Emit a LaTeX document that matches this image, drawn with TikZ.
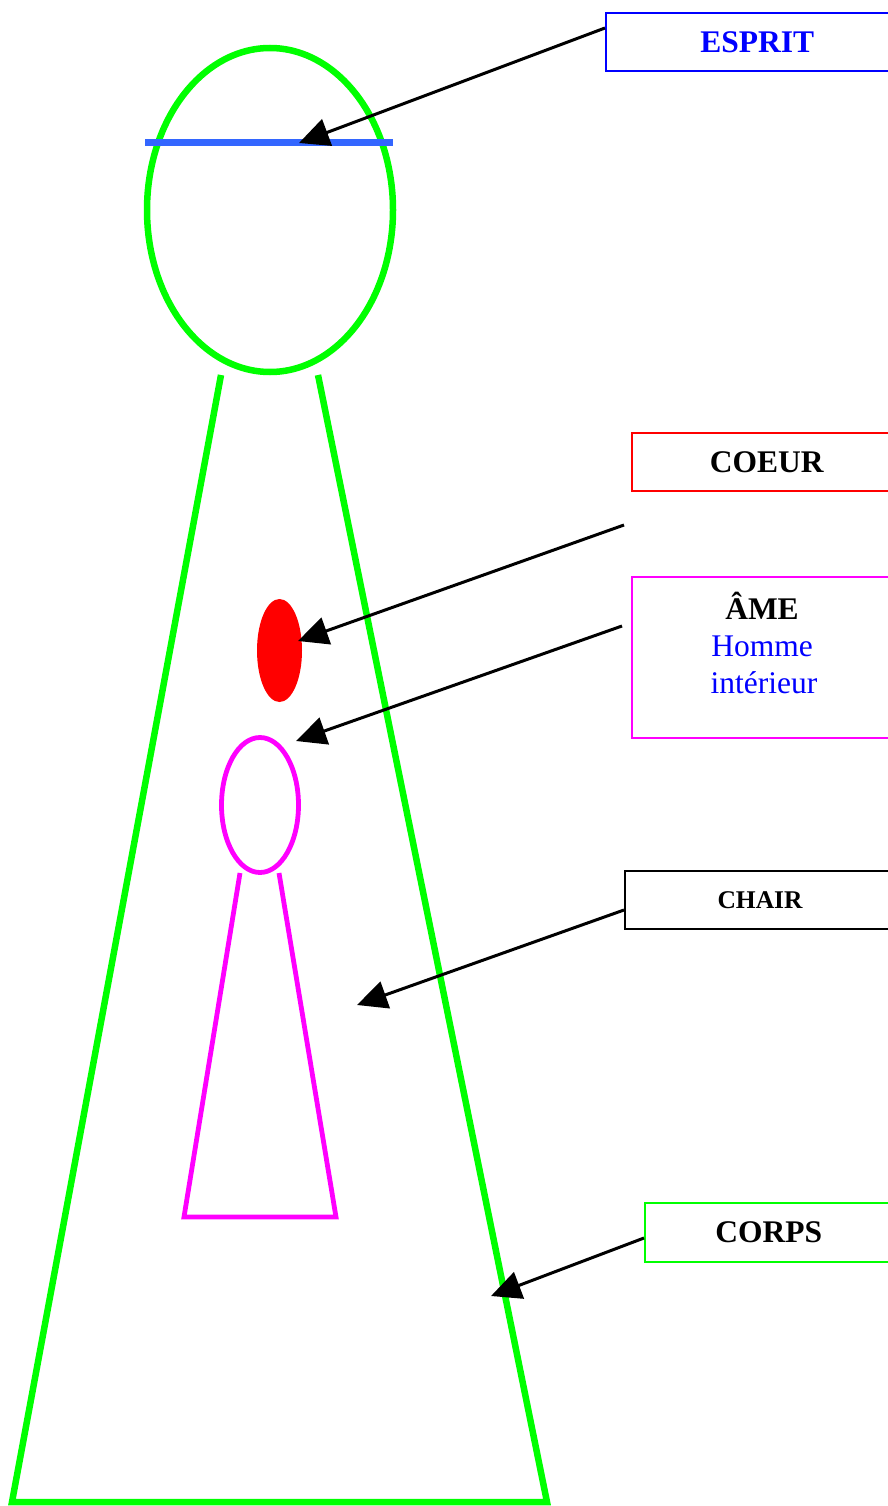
\documentclass[tikz,border=0pt]{standalone}
\usepackage{fontspec}
\setmainfont{Liberation Serif}
\usetikzlibrary{arrows.meta}
\definecolor{grn}{RGB}{0,255,0}
\definecolor{mag}{RGB}{255,0,255}
\definecolor{bl}{RGB}{0,0,255}
\definecolor{lineblue}{RGB}{51,102,255}
\begin{document}
\begin{tikzpicture}[x=1pt,y=-1pt,
  labelbox/.style={draw, line width=1.6pt, rectangle, inner sep=0pt, anchor=west,
    font=\fontsize{31.5}{37}\selectfont\bfseries},
  pointer/.style={line width=3pt, -{Triangle[length=30pt,width=28pt]}},
  figline/.style={grn, line width=6.5pt},
  soulline/.style={mag, line width=4.8pt}]
\useasboundingbox (0,0) rectangle (888,1506);
\clip (0,0) rectangle (888,1506);
% head
\draw[figline] (270,210) ellipse [x radius=123, y radius=162];
\draw[lineblue, line width=7pt] (145,143) -- (393,143);
% body
\draw[figline] (221,375) -- (12,1502) -- (547,1502) -- (318,375);
% heart
\fill[red] (279.5,650.5) ellipse [x radius=22.5, y radius=51.5];
% inner man
\draw[soulline] (260,805) ellipse [x radius=38.5, y radius=67.5];
\draw[soulline] (240,873) -- (184,1217) -- (336,1217) -- (279,873);
% label boxes
\node[labelbox, draw=bl, text=bl, minimum width=303pt, minimum height=58pt] (esprit) at (605,42) {ESPRIT};
\node[labelbox, draw=red, minimum width=270pt, minimum height=58pt] (coeur) at (631,462) {COEUR};
\node[labelbox, draw=mag, minimum width=262pt, minimum height=161pt] (ame) at (631,657.5) {};
\node[anchor=base, font=\fontsize{31.5}{37}\selectfont\bfseries] (ametxt) at (762,619) {ÂME};
\node[anchor=base, text=bl, font=\fontsize{31.5}{37}\selectfont] (homme) at (762,656) {Homme};
\node[anchor=base, text=bl, font=\fontsize{31.5}{37}\selectfont] (interieur) at (764,693) {intérieur};
\node[labelbox, draw=black, line width=2pt, minimum width=270pt, minimum height=58pt,
  font=\fontsize{25.5}{30}\selectfont\bfseries] (chair) at (624,900) {CHAIR};
\node[labelbox, draw=grn, minimum width=248pt, minimum height=59pt] (corps) at (644,1232.5) {CORPS};
% connector ends
\coordinate (espritfrom) at (605,28);
\coordinate (esprittip) at (299,143);
\coordinate (coeurfrom) at (624,525);
\coordinate (coeurtip) at (298,641);
\coordinate (amefrom) at (622,626);
\coordinate (ametip) at (296,741);
\coordinate (chairfrom) at (624,910);
\coordinate (chairtip) at (357,1005);
\coordinate (corpsfrom) at (644,1238);
\coordinate (corpstip) at (491,1296);
\draw[pointer] (espritfrom) -- (esprittip);
\draw[pointer] (coeurfrom) -- (coeurtip);
\draw[pointer] (amefrom) -- (ametip);
\draw[pointer] (chairfrom) -- (chairtip);
\draw[pointer] (corpsfrom) -- (corpstip);
\end{tikzpicture}
\end{document}
